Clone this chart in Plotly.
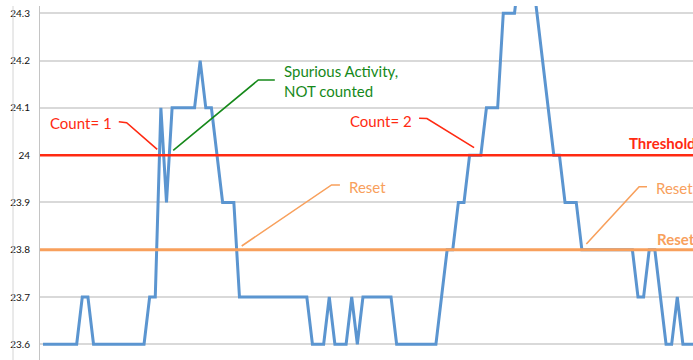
import plotly.graph_objects as go

# Temperature samples (one per reading)
temps = (
    [23.6] * 7 + [23.7] * 2 + [23.6] * 10 + [23.7] * 2
    + [24.1, 23.9] + [24.1] * 5 + [24.2] + [24.1] * 2 + [24.0] + [23.9] * 3
    + [23.7] * 13 + [23.6] * 3 + [23.7] + [23.6] * 3 + [23.7] + [23.6]
    + [23.7] * 6 + [23.6] * 8 + [23.7] + [23.8] * 2 + [23.9] * 2 + [24.0] * 3
    + [24.1] * 3 + [24.3] * 3 + [24.4] * 3 + [24.3, 24.2, 24.1] + [24.0] * 2
    + [23.9] * 3 + [23.8] * 10 + [23.7] * 2 + [23.8] * 2 + [23.7] + [23.6] * 2
    + [23.7] + [23.6] * 4
)
samples = list(range(len(temps)))

THRESHOLD = 24.0
RESET = 23.8

y_ticks = [23.6, 23.7, 23.8, 23.9, 24.0, 24.1, 24.2, 24.3]
y_tick_text = ["23.6", "23.7", "23.8", "23.9", "24", "24.1", "24.2", "24.3"]

X_RANGE = [-0.535, 115.8]
Y_RANGE = [23.5668, 24.3154]

BLUE = "#5b95d0"
RED = "#ff2a12"
ORANGE = "#f8a05c"
GREEN = "#16891a"
FONT = "Lato"

fig = go.Figure()
fig.add_trace(go.Scatter(x=samples, y=temps, mode="lines",
                         line=dict(color=BLUE, width=3), hoverinfo="skip"))
fig.add_trace(go.Scatter(x=X_RANGE, y=[THRESHOLD] * 2, mode="lines",
                         line=dict(color=RED, width=2.5), hoverinfo="skip"))
fig.add_trace(go.Scatter(x=X_RANGE, y=[RESET] * 2, mode="lines",
                         line=dict(color=ORANGE, width=3), hoverinfo="skip"))


def leader(points, color):
    path = "M " + " L ".join(f"{x},{y}" for x, y in points)
    return dict(type="path", path=path, xref="x", yref="y",
                line=dict(color=color, width=1.6))


shapes = [
    leader([(13.5, 24.0708), (14.9, 24.0687), (20.35, 24.0124)], RED),
    leader([(67.0, 24.078), (68.4, 24.0775), (76.8, 24.0158)], RED),
    leader([(23.2, 24.0103), (38.35, 24.159), (41.3, 24.159)], GREEN),
    leader([(35.4, 23.8079), (51.4, 23.937), (52.9, 23.937)], ORANGE),
    leader([(96.8, 23.8122), (106.2, 23.9333), (107.6, 23.9333)], ORANGE),
    # outer frame edge at the left
    dict(type="line", xref="paper", yref="paper", x0=-0.0413, x1=-0.0413,
         y0=0, y1=1, line=dict(color="#d4d4d4", width=1)),
]


def label(x, y, text, color, size=15, bold=False, anchor="center"):
    if bold:
        text = f"<b>{text}</b>"
    return dict(x=x, y=y, xref="x", yref="y", text=text, showarrow=False,
                xanchor=anchor, yanchor="middle", align="left",
                font=dict(family=FONT, size=size, color=color))


annotations = [
    label(6.8, 24.068, "Count= 1", RED),
    label(60.3, 24.0729, "Count= 2", RED),
    label(42.5, 24.157, "Spurious Activity,<br>NOT counted", GREEN, anchor="left"),
    label(54.2, 23.9333, "Reset", ORANGE, anchor="left"),
    label(108.85, 23.93, "Reset", ORANGE, anchor="left"),
    label(104.0, 24.0247, "Threshold", RED, bold=True, anchor="left"),
    label(109.0, 23.8227, "Reset", ORANGE, bold=True, anchor="left"),
]

fig.update_layout(
    width=693, height=360,
    margin=dict(l=40, r=0, t=6, b=0),
    paper_bgcolor="white", plot_bgcolor="white",
    showlegend=False,
    shapes=shapes,
    annotations=annotations,
    xaxis=dict(range=X_RANGE, showgrid=False, zeroline=False,
               showticklabels=False, showline=False, fixedrange=True),
    yaxis=dict(range=Y_RANGE, tickvals=y_ticks, ticktext=y_tick_text,
               showgrid=True, gridcolor="#d9d9d9", gridwidth=1.5,
               zeroline=False, showline=True, linecolor="#c4c4c4", linewidth=1,
               ticks="", ticklabelstandoff=7,
               tickfont=dict(family=FONT, size=10, color="#111111")),
)

fig.write_html("out.html")
